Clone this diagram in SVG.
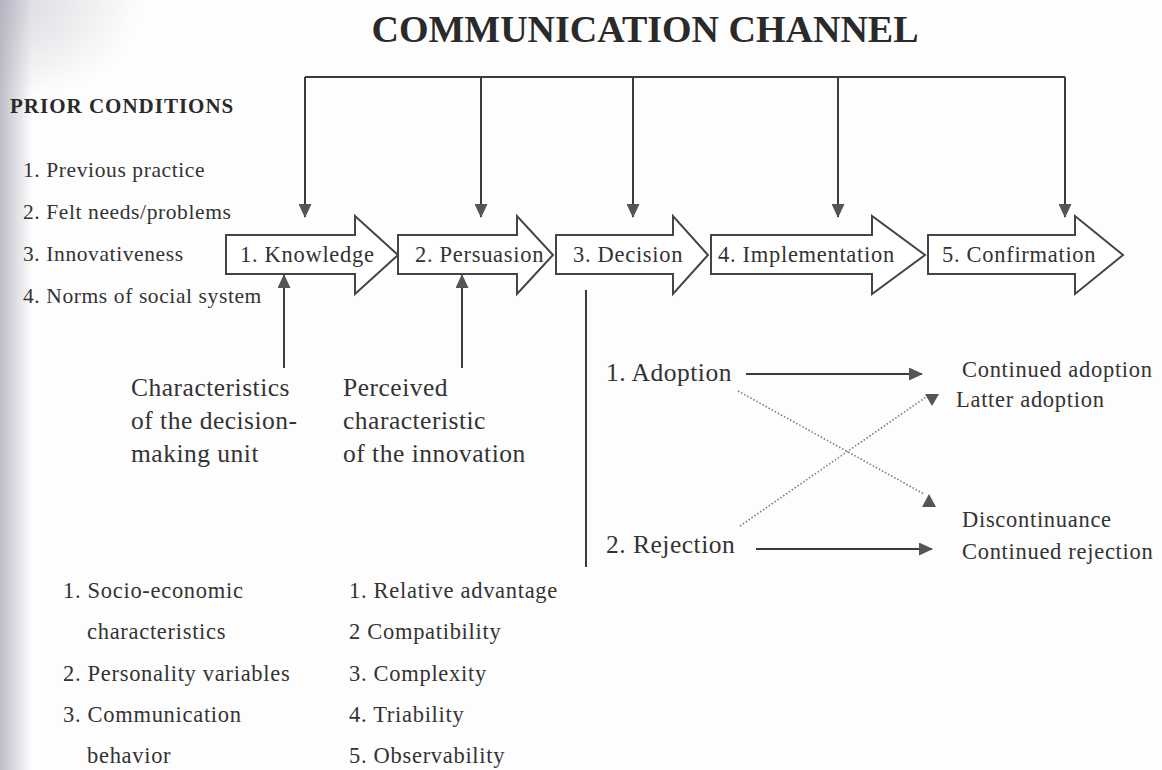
<svg xmlns="http://www.w3.org/2000/svg" width="1162" height="770" viewBox="0 0 1162 770">
  <style>
    text { font-family: "Liberation Serif", "Times New Roman", serif; fill: #333; }
    .title { font-size: 38px; font-weight: bold; fill: #2a2a2a; }
    .head { font-size: 21px; font-weight: bold; letter-spacing: 1px; fill: #2a2a2a; }
    .prior { font-size: 21.5px; letter-spacing: 0.6px; }
    .stage-label { font-size: 22.5px; letter-spacing: 0.7px; }
    .big { font-size: 25.5px; letter-spacing: 0.5px; }
    .mid { font-size: 22.5px; letter-spacing: 0.7px; }
    .stage { fill: #fff; stroke: #444; stroke-width: 2; stroke-linejoin: miter; }
    .wire { fill: none; stroke: #3c3c3c; stroke-width: 2; }
    .dots { fill: none; stroke: #7a7a7a; stroke-width: 1.6; stroke-dasharray: 1.5 2; }
    .tip { fill: #555; }
  </style>
  <defs>
    <marker id="arrow" viewBox="0 0 14 13" refX="13" refY="6.5" markerWidth="14" markerHeight="13" markerUnits="userSpaceOnUse" orient="auto">
      <path d="M0,0 L14,6.5 L0,13 Z" class="tip"/>
    </marker>
    <linearGradient id="edge" x1="0" y1="0" x2="1" y2="0">
      <stop offset="0" stop-color="#a9a9b8" stop-opacity="0.75"/>
      <stop offset="1" stop-color="#a9a9b8" stop-opacity="0"/>
    </linearGradient>
    <radialGradient id="corner" cx="0" cy="0" r="1">
      <stop offset="0" stop-color="#a9a9b8" stop-opacity="0.45"/>
      <stop offset="1" stop-color="#a9a9b8" stop-opacity="0"/>
    </radialGradient>
  </defs>

  <!-- paper -->
  <rect x="0" y="0" width="1162" height="770" fill="#fdfdfd"/>
  <rect x="0" y="0" width="32" height="770" fill="url(#edge)"/>
  <rect x="0" y="0" width="140" height="100" fill="url(#corner)"/>

  <!-- heading -->
  <g id="title">
    <text class="title" x="645" y="42" text-anchor="middle">COMMUNICATION CHANNEL</text>
  </g>

  <!-- connectors -->
  <g id="connectors">
    <!-- communication channel bus feeding every stage -->
    <path class="wire" d="M305,77 H1065"/>
    <line class="wire" x1="305" y1="77" x2="305" y2="217" marker-end="url(#arrow)"/>
    <line class="wire" x1="481" y1="77" x2="481" y2="217" marker-end="url(#arrow)"/>
    <line class="wire" x1="633" y1="77" x2="633" y2="217" marker-end="url(#arrow)"/>
    <line class="wire" x1="838" y1="77" x2="838" y2="217" marker-end="url(#arrow)"/>
    <line class="wire" x1="1065" y1="77" x2="1065" y2="217" marker-end="url(#arrow)"/>
    <!-- inputs from below -->
    <line class="wire" x1="284" y1="368" x2="284" y2="275" marker-end="url(#arrow)"/>
    <line class="wire" x1="462" y1="368" x2="462" y2="275" marker-end="url(#arrow)"/>
    <!-- decision split -->
    <line class="wire" x1="586" y1="290" x2="586" y2="567"/>
    <!-- outcomes -->
    <line class="wire" x1="746" y1="374" x2="922" y2="374" marker-end="url(#arrow)"/>
    <line class="wire" x1="756" y1="549" x2="932" y2="549" marker-end="url(#arrow)"/>
    <line class="dots" x1="740" y1="526" x2="926" y2="397"/>
    <line class="dots" x1="738" y1="391" x2="924" y2="494"/>
    <polygon class="tip" points="925,394 939,394 932,406"/>
    <polygon class="tip" points="922,507 936,507 929,494"/>
  </g>

  <!-- prior conditions -->
  <g id="prior-conditions">
    <text class="head" x="10" y="113">PRIOR CONDITIONS</text>
    <text class="prior" x="23" y="177">1. Previous practice</text>
    <text class="prior" x="23" y="219">2. Felt needs/problems</text>
    <text class="prior" x="23" y="261">3. Innovativeness</text>
    <text class="prior" x="23" y="303">4. Norms of social system</text>
  </g>

  <!-- stages of the process -->
  <g id="stage-knowledge">
    <polygon class="stage" points="226,235 355,235 355,216 398,255 355,294 355,274 226,274"/>
    <text class="stage-label" x="240" y="262">1. Knowledge</text>
  </g>
  <g id="stage-persuasion">
    <polygon class="stage" points="398,235 517,235 517,216 553,255 517,294 517,274 398,274"/>
    <text class="stage-label" x="415" y="262">2. Persuasion</text>
  </g>
  <g id="stage-decision">
    <polygon class="stage" points="556,235 673,235 673,216 708,255 673,294 673,274 556,274"/>
    <text class="stage-label" x="573" y="262">3. Decision</text>
  </g>
  <g id="stage-implementation">
    <polygon class="stage" points="711,235 872,235 872,216 925,255 872,294 872,274 711,274"/>
    <text class="stage-label" x="718" y="262">4. Implementation</text>
  </g>
  <g id="stage-confirmation">
    <polygon class="stage" points="928,235 1075,235 1075,216 1123,255 1075,294 1075,274 928,274"/>
    <text class="stage-label" x="942" y="262">5. Confirmation</text>
  </g>

  <!-- influences on knowledge and persuasion -->
  <g id="decision-unit">
    <text class="big" x="131" y="396">Characteristics</text>
    <text class="big" x="131" y="429">of the decision-</text>
    <text class="big" x="131" y="462">making unit</text>
  </g>
  <g id="innovation-traits">
    <text class="big" x="343" y="396">Perceived</text>
    <text class="big" x="343" y="429">characteristic</text>
    <text class="big" x="343" y="462">of the innovation</text>
  </g>

  <!-- decision outcomes -->
  <g id="adoption">
    <text class="big" x="606" y="381">1. Adoption</text>
  </g>
  <g id="rejection">
    <text class="big" x="606" y="553">2. Rejection</text>
  </g>
  <g id="continued-adoption">
    <text class="mid" x="962" y="377">Continued adoption</text>
  </g>
  <g id="latter-adoption">
    <text class="mid" x="956" y="407">Latter adoption</text>
  </g>
  <g id="discontinuance">
    <text class="mid" x="962" y="527">Discontinuance</text>
  </g>
  <g id="continued-rejection">
    <text class="mid" x="962" y="559">Continued rejection</text>
  </g>

  <!-- lists of variables -->
  <g id="unit-variables">
    <text class="mid" x="63" y="598">1. Socio-economic</text>
    <text class="mid" x="87" y="639">characteristics</text>
    <text class="mid" x="63" y="681">2. Personality variables</text>
    <text class="mid" x="63" y="722">3. Communication</text>
    <text class="mid" x="87" y="763">behavior</text>
  </g>
  <g id="innovation-variables">
    <text class="mid" x="349" y="598">1. Relative advantage</text>
    <text class="mid" x="349" y="639">2 Compatibility</text>
    <text class="mid" x="349" y="681">3. Complexity</text>
    <text class="mid" x="349" y="722">4. Triability</text>
    <text class="mid" x="349" y="763">5. Observability</text>
  </g>
</svg>
